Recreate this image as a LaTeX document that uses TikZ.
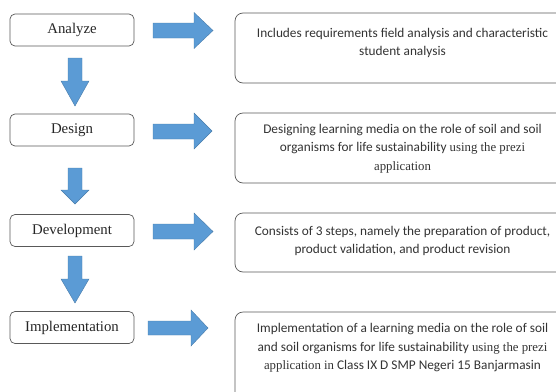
\documentclass[tikz,border=0pt]{standalone}
\usepackage{fontspec}
\setmainfont{Liberation Serif}
\newfontfamily\calfont{Carlito}
\newfontfamily\serfont{Liberation Serif}
\begin{document}
\begin{tikzpicture}[x=1pt,y=-1pt,
  stagebox/.style={draw=black!65,line width=0.7pt,rounded corners=5pt,fill=white,
    minimum width=124pt,minimum height=32pt,inner sep=0pt,
    font=\serfont\fontsize{14.8}{17}\selectfont,text=black!85},
  descbox/.style={draw=black!65,line width=0.7pt,rounded corners=8pt,fill=white,
    minimum width=335pt,inner sep=0pt},
  desctext/.style={align=center,inner sep=0pt,text=black!80,
    font=\calfont\fontsize{13.3}{18.5}\selectfont},
  arrowfill/.style={fill=arrblue,draw=arrblue!80!black,line width=0.4pt}]
\definecolor{arrblue}{HTML}{5B9BD5}
\useasboundingbox (0,0) rectangle (556,391);
\clip (0,0) rectangle (556,391);
\newcommand{\ser}[1]{{\serfont\fontsize{12.8}{18.5}\selectfont #1}}
% left stage boxes
\node[stagebox] (an) at (72,30) {Analyze};
\node[stagebox] (de) at (72,130) {Design};
\node[stagebox] (dv) at (72,230.5) {Development};
\node[stagebox] (im) at (72,327.5) {Implementation};
% right description boxes
\node[descbox,minimum height=70pt] (b1) at (402.5,48) {};
\node[descbox,minimum height=70pt] (b2) at (402.5,148) {};
\node[descbox,minimum height=59pt] (b3) at (402.5,242.5) {};
\node[descbox,minimum height=90pt] (b4) at (402.5,357) {};
\node[desctext] (t1) at (402.5,43) {Includes requirements field analysis and characteristic\\student analysis};
\node[desctext] (t2) at (402.5,148.5) {Designing learning media on the role of soil and soil\\organisms for life sustainability \ser{using the prezi}\\\ser{application}};
\node[desctext] (t3) at (402.5,241) {Consists of 3 steps, namely the preparation of product,\\product validation, and product revision};
\node[desctext] (t4) at (402.5,348) {Implementation of a learning media on the role of soil\\and soil organisms for life sustainability \ser{using the prezi}\\\ser{application in} Class IX D SMP Negeri 15 Banjarmasin};
% down block arrows
\draw[arrowfill] (68,58) -- (82,58) -- (82,81) -- (89,81) -- (75,106) -- (61,81) -- (68,81) -- cycle;
\draw[arrowfill] (68,168) -- (82,168) -- (82,190) -- (89,190) -- (75,204) -- (61,190) -- (68,190) -- cycle;
\draw[arrowfill] (68,256) -- (82,256) -- (82,279) -- (89,279) -- (75,303) -- (61,279) -- (68,279) -- cycle;
% right block arrows
\draw[arrowfill] (153,23) -- (194,23) -- (194,12.5) -- (213,30.5) -- (194,48.5) -- (194,38) -- (153,38) -- cycle;
\draw[arrowfill] (153,124) -- (194,124) -- (194,113) -- (212,131) -- (194,149) -- (194,139) -- (153,139) -- cycle;
\draw[arrowfill] (153,224) -- (194,224) -- (194,213) -- (213,231.5) -- (194,250) -- (194,239) -- (153,239) -- cycle;
\draw[arrowfill] (148,321) -- (191,321) -- (191,310) -- (208,328) -- (191,346) -- (191,335) -- (148,335) -- cycle;
\end{tikzpicture}
\end{document}
